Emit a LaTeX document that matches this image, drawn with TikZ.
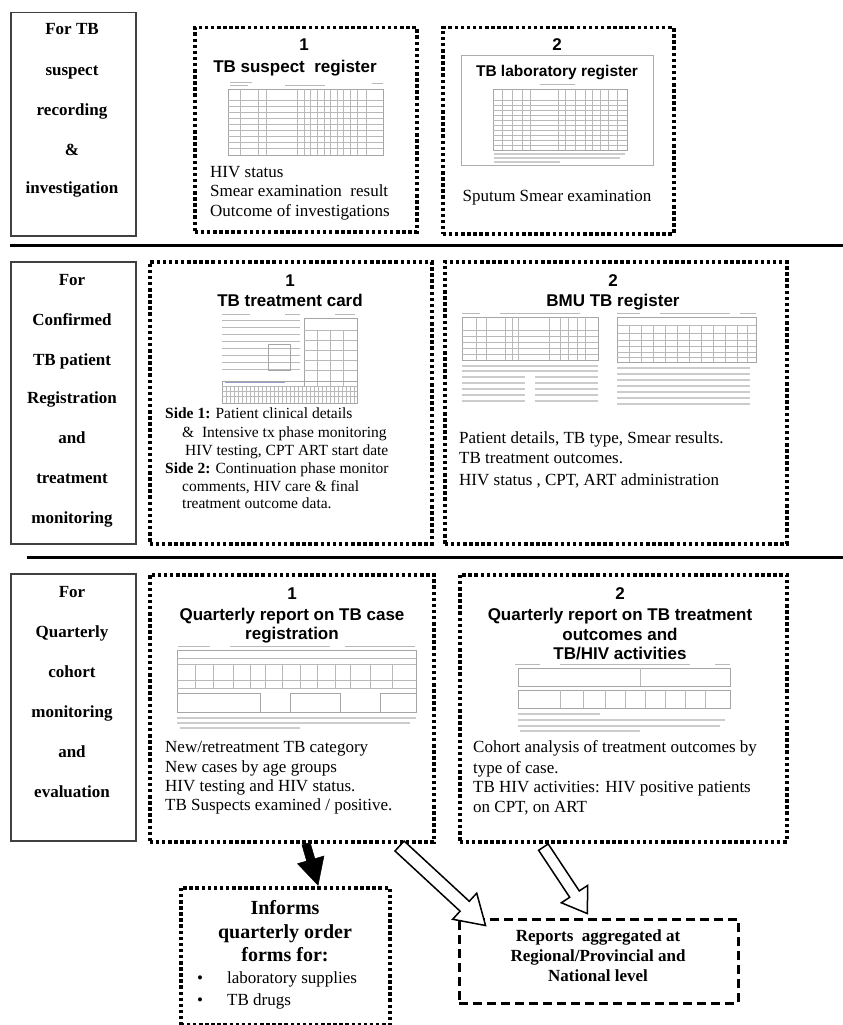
\documentclass[tikz,border=0pt]{standalone}
\usepackage{fontspec}
\setmainfont{Liberation Serif}
\newfontfamily\arialf{Liberation Sans}
\usetikzlibrary{shapes.arrows,calc}
\begin{document}
\begin{tikzpicture}[x=1pt,y=-1pt,
  lbl/.style={draw=black!75, line width=1.5pt, inner sep=0pt, anchor=north west},
  dotbox/.style={draw=black, line width=3.5pt, dash pattern=on 3.5pt off 2.6pt, inner sep=0pt, anchor=north west},
  dashbox/.style={draw=black, line width=2.5pt, dash pattern=on 9pt off 5pt, inner sep=0pt, anchor=north west},
  lbltext/.style={font=\fontsize{17}{17}\selectfont\bfseries, anchor=base, inner sep=0pt},
  numtext/.style={font=\arialf\bfseries\fontsize{17}{17}\selectfont, anchor=base, inner sep=0pt},
  headtext/.style={font=\arialf\bfseries\fontsize{17}{17}\selectfont, anchor=base, inner sep=0pt},
  bodytext/.style={font=\fontsize{17}{17}\selectfont, anchor=base west, inner sep=0pt},
  smalltext/.style={font=\fontsize{15.5}{15.5}\selectfont, anchor=base west, inner sep=0pt},
  boldctext/.style={font=\fontsize{17}{17}\selectfont\bfseries, anchor=base, inner sep=0pt},
  formline/.style={draw=gray!70, line width=0.6pt},
  formthin/.style={draw=gray!55, line width=0.4pt},
  formtext/.style={draw=gray!40, line width=1.3pt},
  harrow/.style={single arrow, draw=black, fill=white, line width=1.5pt, inner sep=0pt},
  barrow/.style={single arrow, draw=black, fill=black, line width=0.5pt, inner sep=0pt}
]
\useasboundingbox (0,0) rectangle (843,1025);

% separators
\draw[line width=3pt] (10,245) -- (843,245);
\draw[line width=3pt] (27,557) -- (843,557);

% ---------- row 1 ----------
\node[lbl, minimum width=125pt, minimum height=223pt] (L1) at (10,12) {};
\node[lbltext] (L1a) at (72,35) {For TB};
\node[lbltext] (L1b) at (72,75) {suspect};
\node[lbltext] (L1c) at (72,115) {recording};
\node[lbltext] (L1d) at (72,155) {\&};
\node[lbltext] (L1e) at (72,193) {investigation};

\node[dotbox, minimum width=222pt, minimum height=204pt] (B1) at (193,26) {};
\node[numtext] (B1n) at (304,51) {1};
\node[headtext] (B1h) at (295,72) {TB suspect\ \ register};
% form thumbnail 1
\draw[formthin] (230,82)--(252,82) (230,85)--(248,85) (285,85)--(325,85) (372,83)--(383,83);
\draw[formline] (228,89) rectangle (383,155);
\foreach \yy in {100,106,...,150} \draw[formthin] (228,\yy)--(383,\yy);
\foreach \xx in {240,258,266,297,304,310,317,324,330,337,343,350,357,366} \draw[formthin] (\xx,89)--(\xx,155);
\node[bodytext] (B1t1) at (210,177) {HIV status};
\node[bodytext] (B1t2) at (210,196) {Smear examination\ \ result};
\node[bodytext] (B1t3) at (210,216) {Outcome of investigations};

\node[dotbox, minimum width=231pt, minimum height=206pt] (B2) at (441,26) {};
\node[numtext] (B2n) at (557,51) {2};
\draw[draw=gray!65, line width=1pt] (461,56) rectangle (653,165);
\node[headtext, font=\arialf\bfseries\fontsize{15.5}{15.5}\selectfont] (B2h) at (557,77) {TB laboratory register};
\draw[formthin] (540,84)--(575,84);
\draw[formline] (493,89) rectangle (627,150);
\foreach \yy in {100,105,...,145} \draw[formthin] (493,\yy)--(627,\yy);
\foreach \xx in {502,512,522,530,558,565,575,585,592,600,608,617} \draw[formthin] (\xx,89)--(\xx,150);
\draw[formtext] (494,154)--(625,154) (494,158)--(620,158) (494,162)--(560,162);
\node[bodytext, anchor=base] (B2t) at (557,201) {Sputum Smear examination};

% ---------- row 2 ----------
\node[lbl, minimum width=125pt, minimum height=282pt] (L2) at (10,261) {};
\node[lbltext] (L2a) at (72,285) {For};
\node[lbltext] (L2b) at (72,325) {Confirmed};
\node[lbltext] (L2c) at (72,365) {TB patient};
\node[lbltext] (L2d) at (72,403) {Registration};
\node[lbltext] (L2e) at (72,443) {and};
\node[lbltext] (L2f) at (72,483) {treatment};
\node[lbltext] (L2g) at (72,523) {monitoring};

\node[dotbox, minimum width=282pt, minimum height=282pt] (C1) at (148,260) {};
\node[numtext] (C1n) at (290,286) {1};
\node[headtext] (C1h) at (290,306) {TB treatment card};
% card thumbnail
\draw[formthin] (222,314)--(250,314) (285,314)--(300,314) (335,314)--(355,314);
\foreach \yy in {320,327,...,369} \draw[formthin] (222,\yy)--(300,\yy);
\draw[formline] (268,344) rectangle (290,370);
\draw[formline] (304,318) rectangle (357,386);
\foreach \yy in {330,340,350,360,370} \draw[formthin] (304,\yy)--(357,\yy);
\foreach \xx in {317,330,343} \draw[formthin] (\xx,330)--(\xx,386);
\draw[formline] (222,381) rectangle (357,403);
\foreach \xx in {226,230,...,354} \draw[formthin] (\xx,386)--(\xx,403);
\foreach \yy in {386,391,396} \draw[formthin] (222,\yy)--(357,\yy);
\draw[draw=blue!30!gray!60, line width=1pt] (225,382)--(285,382);
\node[smalltext] (C1t1) at (165,418) {\textbf{Side 1:} Patient clinical details};
\node[smalltext] (C1t2) at (182,437) {\&\ \ Intensive tx phase monitoring};
\node[smalltext] (C1t3) at (185,455) {HIV testing, CPT ART start date};
\node[smalltext] (C1t4) at (165,473) {\textbf{Side 2:} Continuation phase monitor};
\node[smalltext] (C1t5) at (182,491) {comments, HIV care \& final};
\node[smalltext] (C1t6) at (182,508) {treatment outcome data.};

\node[dotbox, minimum width=342pt, minimum height=282pt] (C2) at (443,260) {};
\node[numtext] (C2n) at (613,286) {2};
\node[headtext] (C2h) at (613,306) {BMU TB register};
% BMU thumbnails
\draw[formthin] (462,313)--(480,313) (500,313)--(580,313);
\draw[formline] (462,317) rectangle (598,360);
\foreach \yy in {330,336,...,354} \draw[formthin] (462,\yy)--(598,\yy);
\foreach \xx in {476,486,505,512,518,549,560,568,577,585} \draw[formthin] (\xx,317)--(\xx,360);
\draw[formtext] (462,366)--(598,366) (462,371)--(598,371);
\foreach \yy in {377,383,...,401} \draw[formtext] (462,\yy)--(525,\yy) (535,\yy)--(598,\yy);
\draw[formthin] (617,313)--(640,313) (660,313)--(730,313) (740,313)--(756,313);
\draw[formline] (617,317) rectangle (756,362);
\foreach \yy in {325,333,340,346,352,357} \draw[formthin] (617,\yy)--(756,\yy);
\foreach \xx in {629,641,653,665,677,689,701,713,725,737,747} \draw[formthin] (\xx,325)--(\xx,362);
\foreach \yy in {368,374,...,404} \draw[formtext] (617,\yy)--(750,\yy);

\node[bodytext] (C2t1) at (459,443) {Patient details, TB type, Smear results.};
\node[bodytext] (C2t2) at (459,463) {TB treatment outcomes.};
\node[bodytext] (C2t3) at (459,485) {HIV status , CPT, ART administration};

% ---------- row 3 ----------
\node[lbl, minimum width=125pt, minimum height=267pt] (L3) at (10,573) {};
\node[lbltext] (L3a) at (72,597) {For};
\node[lbltext] (L3b) at (72,637) {Quarterly};
\node[lbltext] (L3c) at (72,677) {cohort};
\node[lbltext] (L3d) at (72,717) {monitoring};
\node[lbltext] (L3e) at (72,757) {and};
\node[lbltext] (L3f) at (72,797) {evaluation};

\node[dotbox, minimum width=284pt, minimum height=267pt] (Q1) at (148,573) {};
\node[numtext] (Q1n) at (292,599) {1};
\node[headtext] (Q1h1) at (292,620) {Quarterly report on TB case};
\node[headtext] (Q1h2) at (292,639) {registration};
\draw[formthin] (178,646)--(210,646) (230,646)--(330,646) (345,646)--(415,646);
\draw[formline] (177,650) rectangle (416,712);
\foreach \yy in {658,664,680,688} \draw[formthin] (177,\yy)--(416,\yy);
\foreach \xx in {195,213,233,250,265,282,300,317,335,350,370,392} \draw[formthin] (\xx,664)--(\xx,688);
\draw[formline] (177,693) rectangle (260,712) (290,693) rectangle (340,712) (380,693) rectangle (416,712);
\draw[formtext] (177,718)--(416,718) (177,723)--(410,723) (180,728)--(300,728);
\node[bodytext] (Q1t1) at (165,752) {New/retreatment TB category};
\node[bodytext] (Q1t2) at (165,772) {New cases by age groups};
\node[bodytext] (Q1t3) at (165,791) {HIV testing and HIV status.};
\node[bodytext] (Q1t4) at (165,810) {TB Suspects examined / positive.};

\node[dotbox, minimum width=327pt, minimum height=267pt] (Q2) at (458,573) {};
\node[numtext] (Q2n) at (620,599) {2};
\node[headtext] (Q2h1) at (620,620) {Quarterly report on TB treatment};
\node[headtext] (Q2h2) at (620,640) {outcomes and};
\node[headtext] (Q2h3) at (620,659) {TB/HIV activities};
\draw[formthin] (515,664)--(540,664) (560,664)--(690,664) (715,664)--(730,664);
\draw[formline] (518,668) rectangle (730,686);
\draw[formthin] (640,668)--(640,686);
\draw[formline] (518,690) rectangle (730,708);
\foreach \xx in {560,583,605,625,645,665,685,705} \draw[formthin] (\xx,690)--(\xx,708);
\draw[formtext] (518,714)--(600,714) (518,720)--(725,720) (518,726)--(720,726) (520,731)--(640,731);
\node[bodytext] (Q2t1) at (473,752) {Cohort analysis of treatment outcomes by};
\node[bodytext] (Q2t2) at (473,773) {type of case.};
\node[bodytext] (Q2t3) at (473,792) {TB HIV activities: HIV positive patients};
\node[bodytext] (Q2t4) at (473,812) {on CPT, on ART};

% ---------- outputs ----------
\node[dotbox, minimum width=209pt, minimum height=137pt] (INF) at (179,886) {};
\node[boldctext, font=\fontsize{20}{20}\selectfont\bfseries] (INFa) at (285,914) {Informs};
\node[boldctext, font=\fontsize{20}{20}\selectfont\bfseries] (INFb) at (285,938) {quarterly order};
\node[boldctext, font=\fontsize{20}{20}\selectfont\bfseries] (INFc) at (285,961) {forms for:};
\node[bodytext, anchor=base] (INFd) at (200,983) {•};
\node[bodytext] (INFe) at (227,983) {laboratory supplies};
\node[bodytext, anchor=base] (INFf) at (200,1005) {•};
\node[bodytext] (INFg) at (227,1005) {TB drugs};

\node[dashbox, minimum width=279pt, minimum height=84pt] (REP) at (458,918) {};
\node[boldctext] (REPa) at (598,941) {Reports\ \ aggregated at};
\node[boldctext] (REPb) at (598,961) {Regional/Provincial and};
\node[boldctext] (REPc) at (598,981) {National level};

% ---------- arrows ----------
\coordinate (a0s) at ($(Q1.south west)+(158,0)$);
\coordinate (a0e) at ($(INF.north west)+(139,-1)$);
\coordinate (a1s) at ($(Q1.south west)+(251,2)$);
\coordinate (a1e) at ($(REP.north west)+(27,7)$);
\coordinate (a2s) at ($(Q2.south west)+(85,3)$);
\coordinate (a2e) at ($(REP.north west)+(129,-5)$);

\path let \p1=($(a0e)-(a0s)$), \n1={veclen(\x1,\y1)}, \n2={atan2(\y1,\x1)} in
  node[barrow, single arrow head extend=9.5pt, single arrow tip angle=55, minimum height=\n1, rotate=\n2, anchor=tail] (arr0) at (a0s) {\rule{0pt}{8pt}};
\path let \p1=($(a1e)-(a1s)$), \n1={veclen(\x1,\y1)}, \n2={atan2(\y1,\x1)} in
  node[harrow, single arrow head extend=11pt, single arrow tip angle=64, minimum height=\n1, rotate=\n2, anchor=tail] (arr1) at (a1s) {\rule{0pt}{12pt}};
\path let \p1=($(a2e)-(a2s)$), \n1={veclen(\x1,\y1)}, \n2={atan2(\y1,\x1)} in
  node[harrow, single arrow head extend=10pt, single arrow tip angle=68, minimum height=\n1, rotate=\n2, anchor=tail] (arr2) at (a2s) {\rule{0pt}{10pt}};
\end{tikzpicture}
\end{document}
